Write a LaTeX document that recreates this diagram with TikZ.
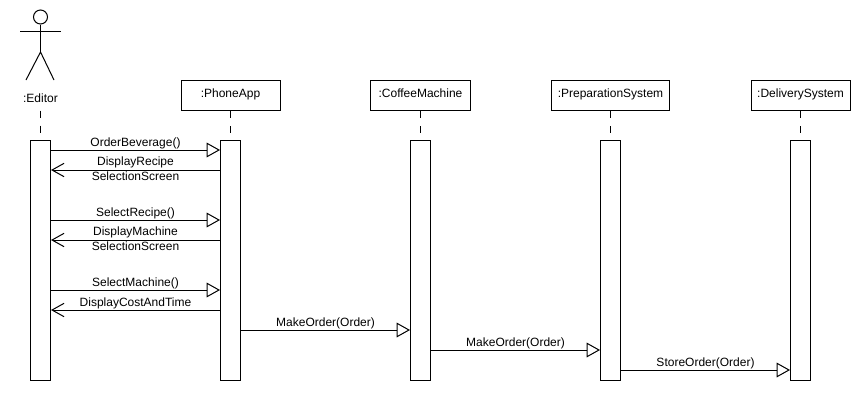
\documentclass[tikz,border=0pt]{standalone}
\usepackage{fontspec}
\setmainfont{Liberation Sans}
\usepackage{tikz}
\usetikzlibrary{arrows.meta}
\usetikzlibrary{calc}
\tikzset{
    lifebox/.style={draw, anchor=north, minimum height=22.5pt, inner sep=0pt, text height=6.5pt, text depth=4.2pt},
    lifebar/.style={draw, anchor=north, minimum width=15pt, minimum height=180pt, inner sep=0pt},
    lifeline/.style={dash pattern=on 5.25pt off 6pt},
    callarrow/.style={-{Triangle[open, fill=white, length=10pt, width=11pt]}},
    replyarrow/.style={-{Straight Barb[length=9pt, width=10pt]}},
    msglabel/.style={midway, align=center, inner sep=0pt}
}
\begin{document}
\begin{tikzpicture}[x=0.75pt, y=-0.75pt, line width=0.75pt, font=\fontsize{9pt}{11.25pt}\selectfont]
    \useasboundingbox (0, 0) rectangle (860, 400);
    % actor
    \node[draw, circle, minimum size=10.5pt, inner sep=0pt] (head) at (40.5, 17) {};
    \coordinate (hip) at (40.5, 52);
    \coordinate (armL) at (20, 31);
    \coordinate (armR) at (61, 31);
    \coordinate (legL) at (26, 80);
    \coordinate (legR) at (54, 80);
    \draw (head) -- (hip);
    \draw (armL) -- (armR);
    \draw (legL) -- (hip) -- (legR);
    \node[minimum height=18pt, inner sep=0pt] (editor) at (40.5, 98) {:Editor};
    % objects
    \node[lifebox, minimum width=74.25pt] (phone) at (230.5, 80) {:PhoneApp};
    \node[lifebox, minimum width=75pt] (coffee) at (420.5, 80) {:CoffeeMachine};
    \node[lifebox, minimum width=88.5pt] (prep) at (610.5, 80) {:PreparationSystem};
    \node[lifebox, minimum width=74.25pt] (delivery) at (800.5, 80) {:DeliverySystem};
    % activation bars
    \foreach \n/\x in {editorBar/40.5, phoneBar/230.5, coffeeBar/420.5, prepBar/610.5, deliveryBar/800.5}
        \node[lifebar] (\n) at (\x, 140) {};
    \draw[lifeline] (editor) -- (editorBar);
    \foreach \a/\b in {phone/phoneBar, coffee/coffeeBar, prep/prepBar, delivery/deliveryBar}
        \draw[lifeline] (\a) -- (\b);
    % calls
    \foreach \y/\txt in {10/OrderBeverage(), 80/SelectRecipe(), 150/SelectMachine()}
        \draw[callarrow] ($(editorBar.north east)+(0, \y)$) -- ($(phoneBar.north west)+(0, \y)$)
            node[msglabel, yshift=5pt] (call\y) {\txt};
    % replies
    \foreach \y/\txt in {30/DisplayRecipe\\SelectionScreen, 100/DisplayMachine\\SelectionScreen}
        \draw[replyarrow] ($(phoneBar.north west)+(0, \y)$) -- ($(editorBar.north east)+(0, \y)$)
            node[msglabel, yshift=0.6pt] (reply\y) {\txt};
    \draw[replyarrow] ($(phoneBar.north west)+(0, 170)$) -- ($(editorBar.north east)+(0, 170)$)
        node[msglabel, yshift=5pt] (reply170) {DisplayCostAndTime};
    % orders
    \foreach \a/\b/\y/\txt in {phoneBar/coffeeBar/190/MakeOrder(Order), coffeeBar/prepBar/210/MakeOrder(Order), prepBar/deliveryBar/230/StoreOrder(Order)}
        \draw[callarrow] ($(\a.north east)+(0, \y)$) -- ($(\b.north west)+(0, \y)$)
            node[msglabel, yshift=5pt] (order\y) {\txt};
\end{tikzpicture}
\end{document}
